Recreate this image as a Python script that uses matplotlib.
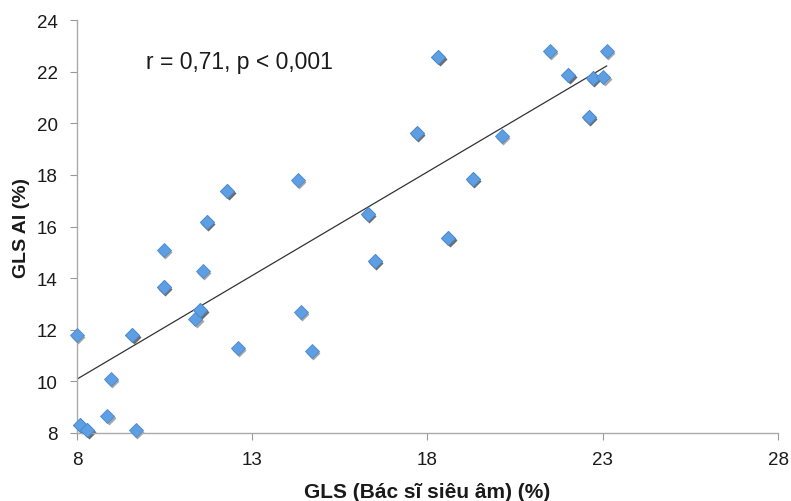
import numpy as np
import matplotlib.pyplot as plt
import matplotlib.transforms as mtransforms

plt.rcParams['font.family'] = ['Liberation Sans', 'DejaVu Sans']

# GLS measured by the sonographer vs. GLS from the AI tool (%)
gls_doctor = [8.0, 8.09, 8.09, 8.3, 8.3, 8.87, 8.97, 9.58, 9.58, 9.68,
              10.48, 10.48, 10.48, 11.37, 11.51, 11.51, 11.59, 11.7, 11.7,
              12.29, 12.29, 12.58, 14.3, 14.39, 14.7, 16.29, 16.29, 16.5, 16.5,
              17.69, 17.69, 18.31, 18.31, 18.59, 18.59, 19.29, 19.29, 20.12,
              21.49, 22.02, 22.02, 22.6, 22.6, 22.71, 22.71, 23.02, 23.11]
gls_ai = [11.8, 8.3, 8.3, 8.1, 8.1, 8.67, 10.1, 11.8, 11.8, 8.13,
          15.1, 13.67, 13.67, 12.4, 12.78, 12.78, 14.29, 16.17, 16.17,
          17.37, 17.37, 11.28, 17.79, 12.7, 11.19, 16.47, 16.47, 14.66, 14.66,
          19.63, 19.63, 22.56, 22.56, 15.56, 15.56, 17.84, 17.84, 19.5,
          22.79, 21.88, 21.88, 20.26, 20.26, 21.75, 21.75, 21.81, 22.79]
annotation = "r = 0,71, p < 0,001"

x = np.array(gls_doctor)
y = np.array(gls_ai)

fig = plt.figure(figsize=(7.91, 5.02), dpi=100)
ax = fig.add_axes([0.0973, 0.1355, 0.8863, 0.8225])

# soft drop shadow under each marker
shadow = mtransforms.offset_copy(ax.transData, fig=fig, x=1.5, y=-2, units='dots')
ax.plot(x, y, 'D', ms=7.5, color='black', alpha=0.35, mec='none',
        transform=shadow, zorder=2, clip_on=False)
ax.plot(x, y, 'D', ms=7, color='#5e9fe3', mec='#4a8ad0', mew=0.6, zorder=3,
        clip_on=False)

# linear trend line
k, b = np.polyfit(x, y, 1)
xl = np.array([x.min(), x.max()])
ax.plot(xl, k * xl + b, color='#333333', lw=0.9, zorder=2.5)

ax.text(146 / 791, 1 - 62 / 502, annotation, transform=fig.transFigure,
        fontsize=16.5, va='center', ha='left', color='#1a1a1a')

ax.set_xlim(8, 28)
ax.set_ylim(8, 24)
ax.set_xticks([8, 13, 18, 23, 28])
ax.set_yticks(range(8, 25, 2))
ax.tick_params(direction='out', length=5, color='#999999', labelsize=13.5,
               labelcolor='#1a1a1a')
ax.tick_params(axis='x', pad=8)
ax.tick_params(axis='y', pad=9)
for side in ('top', 'right'):
    ax.spines[side].set_visible(False)
for side in ('left', 'bottom'):
    ax.spines[side].set_color('#aaaaaa')
    ax.spines[side].set_linewidth(1.0)

ax.set_xlabel('GLS (Bác sĩ siêu âm) (%)', fontsize=15, fontweight='bold',
              color='#1a1a1a', labelpad=10)
ax.set_ylabel('GLS AI (%)', fontsize=14, fontweight='bold', color='#1a1a1a',
              labelpad=5)

fig.savefig('out.png', dpi=100)
